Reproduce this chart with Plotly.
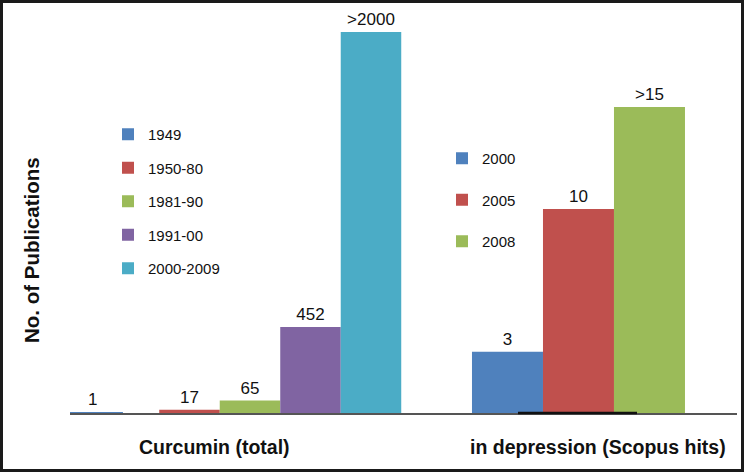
import plotly.graph_objects as go

# ---- data ----
curcumin_periods = ["1949", "1950-80", "1981-90", "1991-00", "2000-2009"]
curcumin_values = [1, 17, 65, 452, 2000]
curcumin_labels = ["1", "17", "65", "452", ">2000"]
curcumin_colors = ["#4F81BD", "#C0504D", "#9BBB59", "#8064A2", "#4BACC6"]

depression_years = ["2000", "2005", "2008"]
depression_values = [3, 10, 15]
depression_labels = ["3", "10", ">15"]
depression_colors = ["#4F81BD", "#C0504D", "#9BBB59"]

group_titles = ["Curcumin (total)", "in depression (Scopus hits)"]
y_title = "No. of Publications"

FONT = "Liberation Sans, Arial, sans-serif"

# ---- layout constants ----
W, H = 744, 472
ML, MR, MT, MB = 70, 7, 10, 59
PW = W - ML - MR
PH = H - MT - MB
split_px = 410  # boundary between the two groups (pixel)
d1 = (split_px - ML) / PW

left_px_per_unit = 0.1905
right_px_per_unit = 20.4

fig = go.Figure()

# left group: first category sits apart from the rest
left_pos = [i if i > 0 else -0.6 for i in range(len(curcumin_periods))]
for name, v, lab, c, x in zip(curcumin_periods, curcumin_values, curcumin_labels, curcumin_colors, left_pos):
    fig.add_trace(go.Bar(
        x=[x], y=[v], width=1, name=name, marker=dict(color=c, line=dict(width=0)),
        text=[lab], textposition="outside", cliponaxis=False,
        textfont=dict(size=17, color="#111", family=FONT),
        xaxis="x", yaxis="y", legend="legend", legendgroup=name,
    ))

for i, (name, v, lab, c) in enumerate(zip(depression_years, depression_values, depression_labels, depression_colors)):
    fig.add_trace(go.Bar(
        x=[i], y=[v], width=1, name=name, marker=dict(color=c, line=dict(width=0)),
        text=[lab], textposition="outside", cliponaxis=False,
        textfont=dict(size=17, color="#111", family=FONT),
        xaxis="x2", yaxis="y2", legend="legend2", legendgroup="d" + name,
    ))

left_w_units = (split_px - ML) / 60.5
left_r0 = -0.975
right_w_units = (W - MR - split_px) / 71.0
right_r0 = -1.373

axis_common = dict(showgrid=False, zeroline=False, showticklabels=False, ticks="",
                   showline=True, linecolor="#555", linewidth=2, fixedrange=True)

fig.update_layout(
    width=W, height=H,
    margin=dict(l=ML, r=MR, t=MT, b=MB, pad=0),
    paper_bgcolor="white", plot_bgcolor="white",
    barmode="overlay",
    font=dict(family=FONT, color="#111"),
    xaxis=dict(domain=[0, d1], range=[left_r0, left_r0 + left_w_units], anchor="y", **axis_common),
    xaxis2=dict(domain=[d1, 1], range=[right_r0, right_r0 + right_w_units], anchor="y2", **axis_common),
    yaxis=dict(domain=[0, 1], range=[0, PH / left_px_per_unit], visible=False, anchor="x"),
    yaxis2=dict(domain=[0, 1], range=[0, PH / right_px_per_unit], visible=False, anchor="x2"),
    legend=dict(x=(108 - ML) / PW, y=1 - (118 - MT) / PH, xanchor="left", yanchor="top",
                font=dict(size=15, family=FONT, color="#111"), tracegroupgap=11,
                bgcolor="rgba(0,0,0,0)", itemclick=False, itemdoubleclick=False),
    legend2=dict(x=(442 - ML) / PW, y=1 - (142 - MT) / PH, xanchor="left", yanchor="top",
                 font=dict(size=15, family=FONT, color="#111"), tracegroupgap=19,
                 bgcolor="rgba(0,0,0,0)", itemclick=False, itemdoubleclick=False),
    showlegend=True,
)

# axis labels as annotations
fig.add_annotation(text="<b>%s</b>" % group_titles[0], xref="paper", yref="paper",
                   x=(214 - ML) / PW, y=-(447 - MT - PH) / PH, showarrow=False,
                   font=dict(size=19.5, family=FONT, color="#111"), xanchor="center", yanchor="middle")
fig.add_annotation(text="<b>%s</b>" % group_titles[1], xref="paper", yref="paper",
                   x=(598 - ML) / PW, y=-(447 - MT - PH) / PH, showarrow=False,
                   font=dict(size=19.5, family=FONT, color="#111"), xanchor="center", yanchor="middle")
fig.add_annotation(text="<b>%s</b>" % y_title, xref="paper", yref="paper",
                   x=(32 - ML) / PW, y=1 - (250 - MT) / PH, showarrow=False, textangle=-90,
                   font=dict(size=20.5, family=FONT, color="#111"), xanchor="center", yanchor="middle")

# dark segment under right group baseline
fig.add_shape(type="line", xref="x2", yref="paper", x0=0.148, x1=1.824, y0=0, y1=0,
              line=dict(color="#111", width=2.5), layer="above")

# outer black frame
fig.add_shape(type="rect", xref="paper", yref="paper",
              x0=-ML / PW, x1=1 + MR / PW, y0=-MB / PH, y1=1 + MT / PH,
              line=dict(color="#1a1a1a", width=6), fillcolor="rgba(0,0,0,0)", layer="above")

fig.write_html("out.html", config=dict(displayModeBar=False),
               post_script="document.body.style.margin='0';document.body.style.overflow='hidden';")
